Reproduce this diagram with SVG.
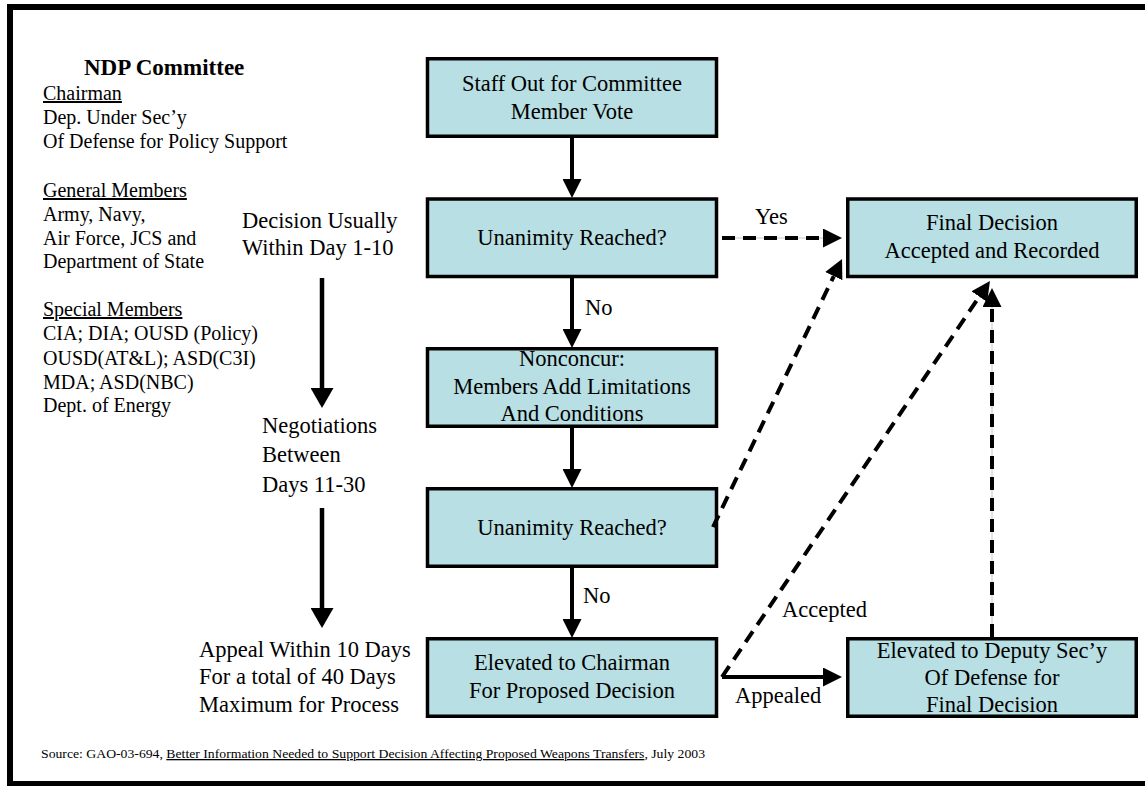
<svg xmlns="http://www.w3.org/2000/svg" width="1145" height="786" viewBox="0 0 1145 786">
  <style>
    text { font-family: "Liberation Serif", "Times New Roman", Times, serif; fill: #000; }
    .lbl { font-family: "Liberation Serif", "Times New Roman", Times, serif; font-size: 22.5px; }
    .mid { text-anchor: middle; }
    .side { font-size: 20px; }
    .title { font-family: "Liberation Serif", "Times New Roman", Times, serif; font-size: 23px; font-weight: bold; }
    .u { text-decoration: underline; }
    .box { fill: #b8dfe3; stroke: #000; stroke-width: 3.5; }
    .solid { stroke: #000; stroke-width: 4; fill: none; }
    .dash { stroke: #000; stroke-width: 4; fill: none; stroke-dasharray: 13 8; }
    .guide { stroke: #c8c8c8; stroke-width: 1; fill: none; }
    .lead { stroke: #000; stroke-width: 4.5; fill: none; }
  </style>
  <defs>
    <marker id="head" markerUnits="userSpaceOnUse" markerWidth="19" markerHeight="19" refX="0" refY="9.5" orient="auto">
      <path d="M0,0 L19,9.5 L0,19 Z" fill="#000"/>
    </marker>
    <marker id="headWide" markerUnits="userSpaceOnUse" markerWidth="20" markerHeight="23" refX="0" refY="11.5" orient="auto">
      <path d="M0,0 L20,11.5 L0,23 Z" fill="#000"/>
    </marker>
  </defs>

  <rect width="1145" height="786" fill="#fff"/>
  <!-- outer frame -->
  <rect x="10" y="7" width="1145" height="777" fill="none" stroke="#000" stroke-width="6"/>

  <!-- committee membership -->
  <g id="committee">
    <text class="title" x="84" y="75">NDP Committee</text>
    <text class="side" x="43" y="100"><tspan class="u">Chairman</tspan></text>
    <text class="side" x="43" y="124">Dep. Under Sec’y</text>
    <text class="side" x="43" y="148">Of Defense for Policy Support</text>
    <text class="side" x="43" y="197"><tspan class="u">General Members</tspan></text>
    <text class="side" x="43" y="221">Army, Navy,</text>
    <text class="side" x="43" y="245">Air Force, JCS and</text>
    <text class="side" x="43" y="268">Department of State</text>
    <text class="side" x="43" y="316"><tspan class="u">Special Members</tspan></text>
    <text class="side" x="43" y="340">CIA; DIA; OUSD (Policy)</text>
    <text class="side" x="43" y="365">OUSD(AT&amp;L); ASD(C3I)</text>
    <text class="side" x="43" y="389">MDA; ASD(NBC)</text>
    <text class="side" x="43" y="412">Dept. of Energy</text>
  </g>

  <!-- timeline -->
  <g id="timeline">
    <text class="lbl" x="242" y="228">Decision Usually</text>
    <text class="lbl" x="242" y="255">Within Day 1-10</text>
    <text class="lbl" x="262" y="433">Negotiations</text>
    <text class="lbl" x="262" y="462">Between</text>
    <text class="lbl" x="262" y="492">Days 11-30</text>
    <text class="lbl" x="199" y="657">Appeal Within 10 Days</text>
    <text class="lbl" x="199" y="684">For a total of 40 Days</text>
    <text class="lbl" x="199" y="712">Maximum for Process</text>
  </g>

  <!-- process boxes -->
  <g id="staff-out">
    <rect class="box" x="427.5" y="58.75" width="289" height="77.5"/>
    <text class="lbl mid" x="572" y="91">Staff Out for Committee</text>
    <text class="lbl mid" x="572" y="119">Member Vote</text>
  </g>
  <g id="unanimity-1">
    <rect class="box" x="427.5" y="199" width="289" height="77.5"/>
    <text class="lbl mid" x="572" y="245">Unanimity Reached?</text>
  </g>
  <g id="final-decision">
    <rect class="box" x="847.75" y="199" width="288.5" height="77.5"/>
    <text class="lbl mid" x="992" y="230">Final Decision</text>
    <text class="lbl mid" x="992" y="258">Accepted and Recorded</text>
  </g>
  <g id="nonconcur">
    <rect class="box" x="427.5" y="348.75" width="289" height="77.5"/>
    <text class="lbl mid" x="572" y="366">Nonconcur:</text>
    <text class="lbl mid" x="572" y="394">Members Add Limitations</text>
    <text class="lbl mid" x="572" y="421">And Conditions</text>
  </g>
  <g id="unanimity-2">
    <rect class="box" x="427.5" y="488.75" width="289" height="77.5"/>
    <text class="lbl mid" x="572" y="535">Unanimity Reached?</text>
  </g>
  <g id="chairman">
    <rect class="box" x="427.5" y="638.75" width="289" height="77.5"/>
    <text class="lbl mid" x="572" y="670">Elevated to Chairman</text>
    <text class="lbl mid" x="572" y="698">For Proposed Decision</text>
  </g>
  <g id="deputy">
    <rect class="box" x="847.75" y="638.75" width="288.5" height="77.5"/>
    <text class="lbl mid" x="992" y="658">Elevated to Deputy Sec’y</text>
    <text class="lbl mid" x="992" y="685">Of Defense for</text>
    <text class="lbl mid" x="992" y="712">Final Decision</text>
  </g>

  <!-- connectors -->
  <g id="connectors">
    <line class="lead" x1="322" y1="278" x2="322" y2="388" marker-end="url(#headWide)"/>
    <line class="lead" x1="322" y1="508" x2="322" y2="608" marker-end="url(#headWide)"/>

    <line class="solid" x1="572" y1="138" x2="572" y2="179" marker-end="url(#head)"/>
    <line class="solid" x1="572" y1="278" x2="572" y2="329" marker-end="url(#head)"/>
    <line class="solid" x1="572" y1="428" x2="572" y2="469" marker-end="url(#head)"/>
    <line class="solid" x1="572" y1="568" x2="572" y2="619" marker-end="url(#head)"/>

    <line class="guide" x1="722" y1="238" x2="823" y2="238"/>
    <line class="dash" x1="722" y1="238" x2="823" y2="238" marker-end="url(#head)"/>

    <line class="dash" x1="713" y1="527" x2="833.8" y2="276.1" marker-end="url(#head)"/>
    <line class="dash" x1="722" y1="677" x2="979.3" y2="296.7" marker-end="url(#head)"/>

    <line class="guide" x1="992" y1="637" x2="992" y2="307"/>
    <line class="dash" x1="992" y1="637" x2="992" y2="307" marker-end="url(#head)"/>

    <line class="solid" x1="722" y1="677" x2="823" y2="677" marker-end="url(#head)"/>

    <text class="lbl" x="585" y="315">No</text>
    <text class="lbl" x="583" y="603">No</text>
    <text class="lbl" x="755" y="224">Yes</text>
    <text class="lbl" x="782" y="617">Accepted</text>
    <text class="lbl" x="735" y="703">Appealed</text>
  </g>

  <!-- source note -->
  <text x="41" y="758" style="font-size:13px" textLength="664" lengthAdjust="spacingAndGlyphs">Source:  GAO-03-694, <tspan class="u">Better Information Needed to Support Decision Affecting Proposed Weapons Transfers</tspan>, July 2003</text>
</svg>
